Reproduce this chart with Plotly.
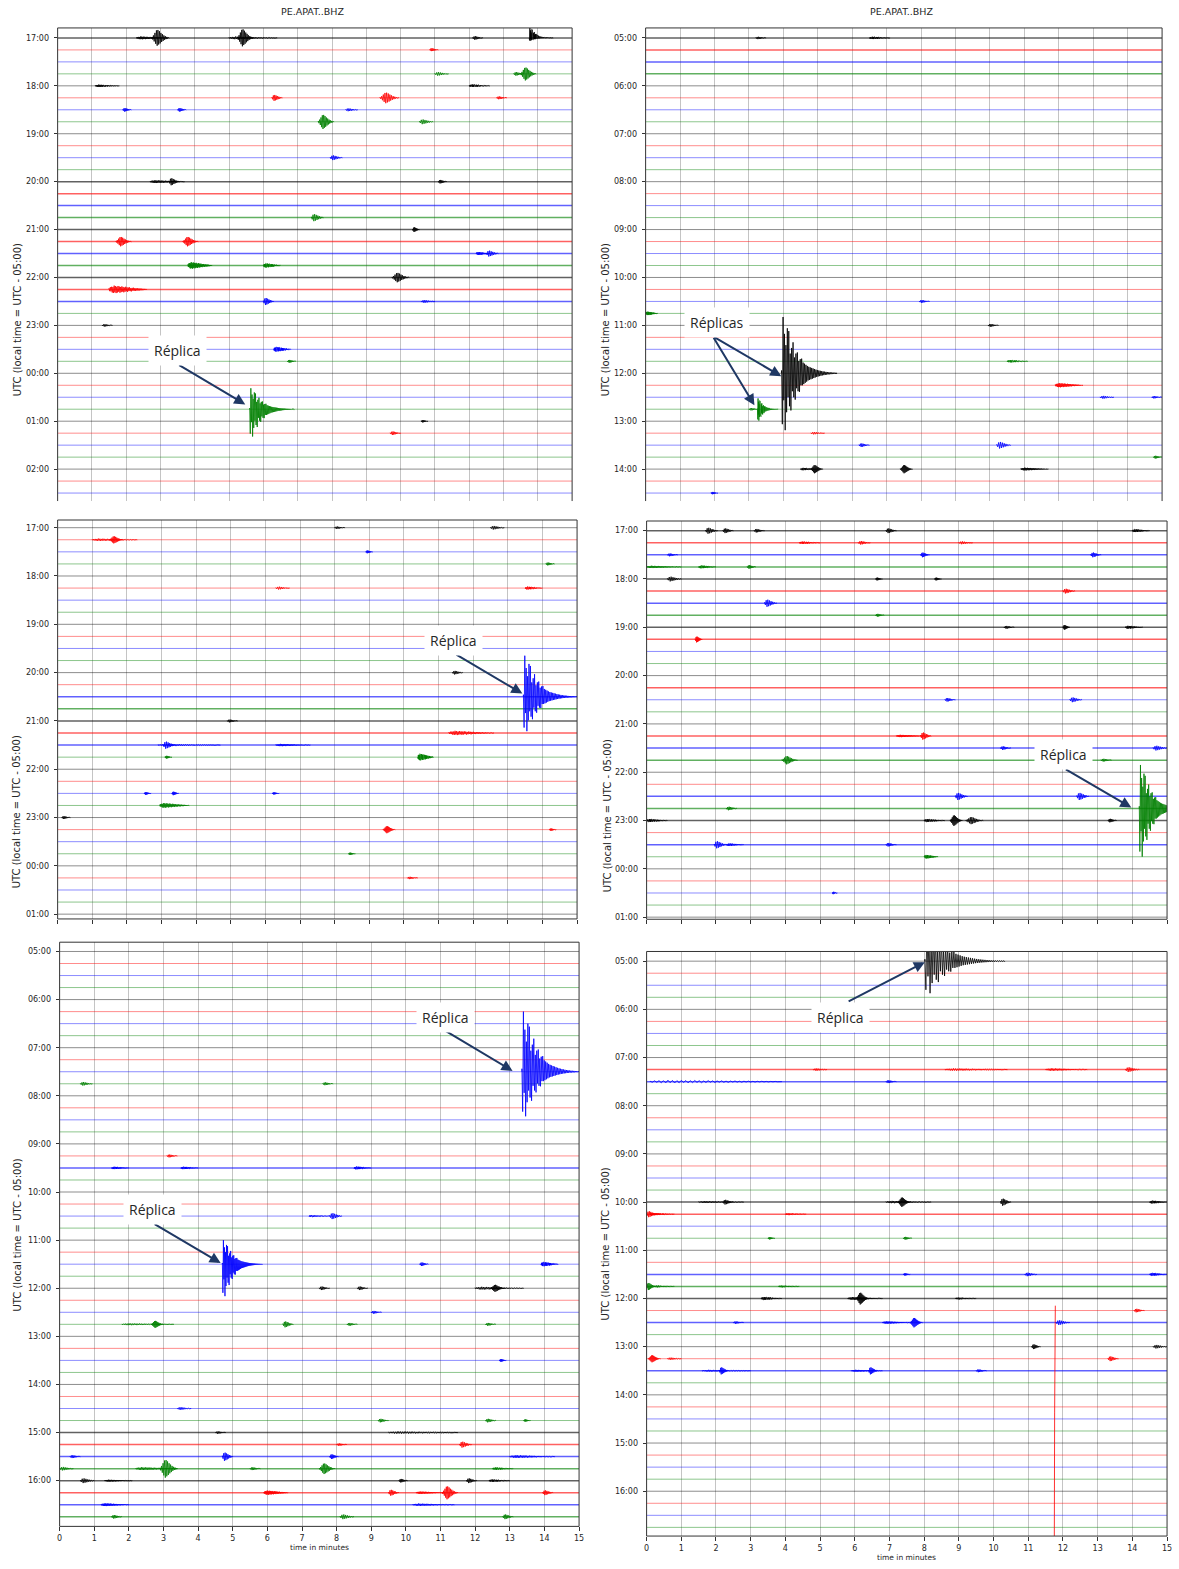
import plotly.graph_objects as go

W, H = 1179, 1569

STATION = "PE.APAT..BHZ"
Y_TITLE = "UTC (local time = UTC - 05:00)"
X_TITLE = "time in minutes"
NOTE = "Réplica"
NOTE_PLURAL = "Réplicas"
MINUTES = list(range(0, 16))

# one line per 15 minutes, colours cycle black / red / blue / green
TRACE_RGB = [(0, 0, 0), (255, 0, 0), (0, 0, 255), (0, 128, 0)]

# hour labels of each helicorder view
TL_HOURS = ["17:00", "18:00", "19:00", "20:00", "21:00", "22:00", "23:00", "00:00", "01:00", "02:00"]
TR_HOURS = ["05:00", "06:00", "07:00", "08:00", "09:00", "10:00", "11:00", "12:00", "13:00", "14:00"]
ML_HOURS = ["17:00", "18:00", "19:00", "20:00", "21:00", "22:00", "23:00", "00:00", "01:00"]
MR_HOURS = ["17:00", "18:00", "19:00", "20:00", "21:00", "22:00", "23:00", "00:00", "01:00"]
BL_HOURS = ["05:00", "06:00", "07:00", "08:00", "09:00", "10:00", "11:00", "12:00", "13:00", "14:00", "15:00", "16:00"]
BR_HOURS = ["05:00", "06:00", "07:00", "08:00", "09:00", "10:00", "11:00", "12:00", "13:00", "14:00", "15:00", "16:00"]

# number of 15-minute lines shown
TL_LINES, TR_LINES, ML_LINES, MR_LINES, BL_LINES, BR_LINES = 39, 39, 33, 33, 48, 48

# lines with a higher background noise level
TL_NOISY = [0, 12, 13, 14, 15, 16, 17, 18, 19, 20, 21, 22]
TR_NOISY = [0, 1, 2, 3]
ML_NOISY = [14, 15, 16, 17, 18]
MR_NOISY = [0, 1, 2, 3, 4, 5, 6, 7, 8, 9, 13, 17, 18, 19, 22, 23, 24, 26]
BL_NOISY = [18, 40, 41, 42, 43, 44, 45, 46, 47]
BR_NOISY = [9, 10, 20, 21, 26, 27, 28, 30, 34]

# relative amplitude envelopes of the wave packets (alternating up / down swings)
IMPULSIVE = [0.05, 0.85, 1.0, 0.45, 0.7, 0.95, 0.5, 0.65, 0.8, 0.4, 0.75, 0.55, 0.35, 0.62, 0.45,
             0.3, 0.55, 0.4, 0.28, 0.44, 0.35, 0.25, 0.37, 0.3, 0.22, 0.31, 0.25, 0.2, 0.26, 0.2,
             0.19, 0.18, 0.17, 0.16, 0.15, 0.14, 0.13, 0.12, 0.115, 0.11, 0.105,
             0.1, 0.095, 0.09, 0.085, 0.08, 0.075, 0.07, 0.065, 0.06, 0.057, 0.054, 0.05, 0.047,
             0.044, 0.041, 0.038, 0.035, 0.033, 0.031, 0.029, 0.027, 0.025, 0.023, 0.021, 0.019,
             0.018, 0.017, 0.016, 0.015, 0.014, 0.013, 0.012, 0.011, 0.01, 0.01, 0.01, 0.01]
SPINDLE = [0.1, 0.2, 0.3, 0.45, 0.6, 0.75, 0.9, 1.0, 0.95, 0.85, 0.8, 0.7, 0.6, 0.52, 0.45,
           0.38, 0.3, 0.25, 0.2, 0.15, 0.12, 0.09, 0.06, 0.04]
BLOB = [0.2, 0.5, 0.8, 1.0, 0.95, 0.85, 0.75, 0.65, 0.55, 0.45, 0.38, 0.3, 0.22, 0.16, 0.1, 0.06]
EMERGENT = [0.3, 0.45, 0.6, 0.5, 0.7, 0.8, 0.65, 0.9, 1.0, 0.75, 0.85, 0.95, 0.7, 0.8, 0.9,
            0.6, 0.75, 0.85, 0.65, 0.7, 0.8, 0.55, 0.65, 0.75, 0.5, 0.6, 0.7, 0.45, 0.55, 0.65,
            0.5, 0.4, 0.55, 0.45, 0.35, 0.5, 0.4, 0.3, 0.45, 0.35, 0.3, 0.4, 0.3, 0.25, 0.35,
            0.28, 0.22, 0.3, 0.24, 0.2, 0.25, 0.2, 0.16, 0.2, 0.15, 0.12, 0.15, 0.1, 0.08, 0.06]
SHAPES = {"impulsive": IMPULSIVE, "spindle": SPINDLE, "blob": BLOB, "emergent": EMERGENT}

# events: (line index, onset minute, up amplitude, down amplitude [line spacings], duration [min], shape)
TL_EVENTS = [
    (0, 2.3, 0.12, 0.12, 0.9, "emergent"), (0, 2.75, 0.7, 0.65, 0.5, "spindle"),
    (0, 5.0, 0.12, 0.12, 1.4, "emergent"), (0, 5.25, 0.75, 0.7, 0.45, "spindle"),
    (0, 12.1, 0.15, 0.15, 0.3, "blob"), (0, 13.75, 0.9, 0.25, 0.7, "impulsive"),
    (1, 10.85, 0.15, 0.1, 0.25, "blob"),
    (3, 11.0, 0.15, 0.15, 0.4, "blob"), (3, 13.3, 0.15, 0.15, 0.3, "blob"),
    (3, 13.5, 0.55, 0.55, 0.45, "spindle"),
    (4, 1.1, 0.1, 0.1, 0.7, "emergent"), (4, 12.0, 0.12, 0.1, 0.6, "emergent"),
    (5, 6.25, 0.25, 0.25, 0.3, "blob"), (5, 9.4, 0.45, 0.45, 0.55, "spindle"),
    (5, 12.8, 0.12, 0.12, 0.3, "blob"),
    (6, 1.9, 0.15, 0.15, 0.25, "blob"), (6, 3.5, 0.15, 0.15, 0.25, "blob"),
    (6, 8.4, 0.12, 0.12, 0.35, "blob"),
    (7, 7.6, 0.6, 0.6, 0.45, "spindle"), (7, 10.55, 0.2, 0.2, 0.4, "blob"),
    (10, 7.95, 0.2, 0.2, 0.35, "blob"),
    (12, 2.7, 0.12, 0.12, 1.0, "emergent"), (12, 3.25, 0.3, 0.3, 0.3, "blob"),
    (12, 11.1, 0.15, 0.15, 0.25, "blob"),
    (15, 7.4, 0.3, 0.3, 0.35, "blob"),
    (16, 10.35, 0.2, 0.2, 0.2, "blob"),
    (17, 1.7, 0.4, 0.4, 0.45, "spindle"), (17, 3.65, 0.4, 0.4, 0.45, "spindle"),
    (18, 12.2, 0.12, 0.12, 0.4, "emergent"), (18, 12.5, 0.25, 0.25, 0.35, "blob"),
    (19, 3.8, 0.28, 0.28, 0.7, "emergent"), (19, 6.0, 0.18, 0.18, 0.5, "emergent"),
    (20, 9.75, 0.4, 0.4, 0.5, "spindle"),
    (21, 1.5, 0.32, 0.32, 1.1, "emergent"),
    (22, 6.0, 0.3, 0.3, 0.3, "blob"), (22, 10.6, 0.12, 0.12, 0.4, "blob"),
    (24, 1.3, 0.1, 0.1, 0.3, "blob"),
    (26, 6.3, 0.2, 0.2, 0.5, "emergent"),
    (27, 6.7, 0.12, 0.12, 0.25, "blob"),
    (31, 5.6, 1.75, 2.4, 1.3, "impulsive"),
    (32, 10.6, 0.1, 0.1, 0.2, "blob"),
    (33, 9.7, 0.15, 0.15, 0.3, "blob"),
]
TR_EVENTS = [
    (0, 3.2, 0.1, 0.1, 0.3, "blob"), (0, 6.5, 0.1, 0.1, 0.6, "emergent"),
    (22, 7.95, 0.12, 0.12, 0.3, "blob"),
    (23, 0.0, 0.15, 0.15, 0.35, "emergent"),
    (24, 9.95, 0.12, 0.12, 0.3, "blob"),
    (27, 10.5, 0.1, 0.1, 0.6, "emergent"),
    (28, 3.95, 4.7, 5.0, 1.6, "impulsive"),
    (29, 11.9, 0.18, 0.18, 0.8, "emergent"),
    (30, 13.2, 0.12, 0.12, 0.4, "blob"), (30, 14.7, 0.1, 0.1, 0.3, "blob"),
    (31, 3.0, 0.1, 0.1, 0.3, "blob"), (31, 3.25, 0.9, 1.0, 0.6, "impulsive"),
    (33, 4.8, 0.1, 0.1, 0.4, "blob"),
    (34, 6.2, 0.15, 0.15, 0.3, "blob"), (34, 10.2, 0.28, 0.28, 0.4, "blob"),
    (35, 14.75, 0.12, 0.12, 0.25, "blob"),
    (36, 4.5, 0.1, 0.1, 0.5, "emergent"), (36, 4.8, 0.35, 0.35, 0.35, "spindle"),
    (36, 7.4, 0.35, 0.35, 0.35, "spindle"), (36, 10.9, 0.12, 0.12, 0.8, "emergent"),
    (38, 1.9, 0.1, 0.1, 0.2, "blob"),
]
ML_EVENTS = [
    (0, 8.0, 0.1, 0.1, 0.3, "blob"), (0, 12.5, 0.15, 0.15, 0.4, "blob"),
    (1, 1.0, 0.1, 0.1, 1.3, "emergent"), (1, 1.5, 0.3, 0.3, 0.4, "spindle"),
    (2, 8.9, 0.12, 0.12, 0.2, "blob"),
    (3, 14.1, 0.12, 0.12, 0.25, "blob"),
    (5, 6.3, 0.12, 0.12, 0.4, "blob"), (5, 13.5, 0.12, 0.12, 0.5, "emergent"),
    (12, 11.4, 0.15, 0.15, 0.3, "blob"),
    (14, 13.45, 3.4, 3.0, 1.55, "impulsive"),
    (16, 4.9, 0.12, 0.12, 0.3, "blob"),
    (17, 11.3, 0.18, 0.18, 1.3, "emergent"),
    (18, 2.9, 0.1, 0.1, 1.8, "emergent"), (18, 3.05, 0.3, 0.3, 0.35, "blob"),
    (18, 6.3, 0.1, 0.1, 1.0, "emergent"),
    (19, 3.1, 0.12, 0.12, 0.2, "blob"), (19, 10.4, 0.28, 0.28, 0.45, "emergent"),
    (22, 2.5, 0.12, 0.12, 0.2, "blob"), (22, 3.3, 0.15, 0.15, 0.2, "blob"),
    (22, 6.2, 0.1, 0.1, 0.2, "blob"),
    (23, 2.95, 0.2, 0.2, 0.85, "emergent"),
    (24, 0.12, 0.12, 0.12, 0.25, "blob"),
    (25, 9.4, 0.3, 0.3, 0.35, "spindle"), (25, 14.2, 0.1, 0.1, 0.2, "blob"),
    (27, 8.4, 0.1, 0.1, 0.2, "blob"),
    (29, 10.1, 0.1, 0.1, 0.3, "blob"),
]
MR_EVENTS = [
    (0, 1.7, 0.25, 0.25, 0.35, "blob"), (0, 2.2, 0.2, 0.2, 0.3, "blob"),
    (0, 3.1, 0.15, 0.15, 0.3, "blob"), (0, 6.9, 0.2, 0.2, 0.3, "blob"),
    (0, 14.0, 0.12, 0.12, 0.5, "emergent"),
    (1, 4.4, 0.1, 0.1, 0.6, "emergent"), (1, 6.1, 0.15, 0.15, 0.35, "blob"),
    (1, 9.0, 0.12, 0.12, 0.4, "blob"),
    (2, 0.6, 0.12, 0.12, 0.3, "blob"), (2, 7.9, 0.2, 0.2, 0.25, "blob"),
    (2, 12.8, 0.2, 0.2, 0.3, "blob"),
    (3, 0.0, 0.1, 0.1, 1.0, "emergent"), (3, 1.5, 0.12, 0.12, 0.5, "emergent"),
    (3, 2.9, 0.15, 0.15, 0.25, "blob"),
    (4, 0.6, 0.2, 0.2, 0.4, "blob"), (4, 6.6, 0.12, 0.12, 0.2, "blob"),
    (4, 8.3, 0.12, 0.12, 0.2, "blob"),
    (5, 12.0, 0.2, 0.2, 0.35, "blob"),
    (6, 3.4, 0.3, 0.3, 0.35, "blob"),
    (7, 6.6, 0.12, 0.12, 0.25, "blob"),
    (8, 10.3, 0.12, 0.12, 0.3, "blob"), (8, 12.0, 0.2, 0.2, 0.2, "blob"),
    (8, 13.8, 0.12, 0.12, 0.5, "emergent"),
    (9, 1.4, 0.25, 0.25, 0.2, "blob"),
    (14, 8.6, 0.15, 0.15, 0.3, "blob"), (14, 12.2, 0.2, 0.2, 0.35, "blob"),
    (17, 7.2, 0.1, 0.1, 0.8, "emergent"), (17, 7.9, 0.3, 0.3, 0.3, "blob"),
    (18, 10.2, 0.15, 0.15, 0.3, "blob"), (18, 14.6, 0.2, 0.2, 0.4, "blob"),
    (19, 3.9, 0.35, 0.35, 0.45, "spindle"), (19, 13.1, 0.12, 0.12, 0.3, "blob"),
    (22, 8.9, 0.3, 0.3, 0.35, "blob"), (22, 12.4, 0.3, 0.3, 0.35, "blob"),
    (23, 2.3, 0.15, 0.15, 0.3, "blob"), (23, 14.2, 3.6, 4.2, 1.3, "impulsive"),
    (24, 0.0, 0.12, 0.12, 0.6, "emergent"), (24, 8.0, 0.12, 0.12, 0.6, "emergent"),
    (24, 8.75, 0.45, 0.45, 0.35, "spindle"), (24, 9.2, 0.3, 0.3, 0.5, "spindle"),
    (24, 13.3, 0.15, 0.15, 0.25, "blob"),
    (26, 1.95, 0.3, 0.3, 0.35, "blob"), (26, 2.3, 0.1, 0.1, 0.5, "emergent"),
    (26, 6.9, 0.15, 0.15, 0.3, "blob"),
    (27, 8.0, 0.15, 0.15, 0.4, "emergent"),
    (30, 5.35, 0.1, 0.1, 0.15, "blob"),
]
BL_EVENTS = [
    (10, 13.35, 5.0, 3.9, 1.65, "impulsive"),
    (11, 0.6, 0.15, 0.15, 0.35, "blob"), (11, 7.6, 0.12, 0.12, 0.3, "blob"),
    (17, 3.1, 0.12, 0.12, 0.3, "blob"),
    (18, 1.5, 0.1, 0.1, 0.5, "emergent"), (18, 3.5, 0.1, 0.1, 0.5, "emergent"),
    (18, 8.5, 0.12, 0.12, 0.5, "emergent"),
    (22, 7.2, 0.08, 0.08, 0.6, "emergent"), (22, 7.8, 0.25, 0.25, 0.35, "blob"),
    (26, 4.7, 2.0, 2.8, 1.15, "impulsive"),
    (26, 10.4, 0.15, 0.15, 0.25, "blob"), (26, 13.9, 0.18, 0.18, 0.5, "emergent"),
    (28, 7.5, 0.15, 0.15, 0.3, "blob"), (28, 8.6, 0.15, 0.15, 0.3, "blob"),
    (28, 12.0, 0.12, 0.12, 1.4, "emergent"), (28, 12.45, 0.3, 0.3, 0.4, "spindle"),
    (30, 9.0, 0.12, 0.12, 0.3, "blob"),
    (31, 1.8, 0.08, 0.08, 1.5, "emergent"), (31, 2.65, 0.3, 0.3, 0.35, "spindle"),
    (31, 6.45, 0.25, 0.25, 0.3, "blob"), (31, 8.3, 0.12, 0.12, 0.3, "blob"),
    (31, 12.3, 0.12, 0.12, 0.3, "blob"),
    (34, 12.7, 0.12, 0.12, 0.2, "blob"),
    (38, 3.4, 0.12, 0.12, 0.4, "blob"),
    (39, 9.2, 0.15, 0.15, 0.3, "blob"), (39, 12.3, 0.15, 0.15, 0.3, "blob"),
    (39, 13.4, 0.1, 0.1, 0.2, "blob"),
    (40, 4.5, 0.1, 0.1, 0.3, "blob"), (40, 9.5, 0.1, 0.1, 2.0, "emergent"),
    (41, 8.0, 0.1, 0.1, 0.3, "blob"), (41, 11.55, 0.25, 0.25, 0.35, "blob"),
    (42, 0.3, 0.12, 0.12, 0.3, "blob"), (42, 4.7, 0.35, 0.35, 0.3, "blob"),
    (42, 7.8, 0.2, 0.2, 0.25, "blob"), (42, 13.0, 0.12, 0.12, 1.3, "emergent"),
    (43, 0.0, 0.15, 0.15, 0.4, "blob"), (43, 2.2, 0.12, 0.12, 1.2, "emergent"),
    (43, 2.9, 0.75, 0.75, 0.5, "spindle"), (43, 5.5, 0.12, 0.12, 0.3, "blob"),
    (43, 7.5, 0.45, 0.45, 0.45, "spindle"), (43, 12.5, 0.1, 0.1, 0.6, "emergent"),
    (44, 0.6, 0.2, 0.2, 0.4, "blob"), (44, 1.3, 0.08, 0.08, 0.8, "emergent"),
    (44, 9.8, 0.15, 0.15, 0.25, "blob"), (44, 11.75, 0.2, 0.2, 0.3, "blob"),
    (44, 12.4, 0.1, 0.1, 0.6, "emergent"),
    (45, 5.9, 0.18, 0.18, 0.7, "emergent"), (45, 9.5, 0.25, 0.25, 0.3, "blob"),
    (45, 10.3, 0.1, 0.1, 0.8, "emergent"), (45, 11.05, 0.55, 0.55, 0.45, "spindle"),
    (45, 13.95, 0.2, 0.2, 0.3, "blob"),
    (46, 1.2, 0.12, 0.12, 0.8, "emergent"), (46, 10.2, 0.1, 0.1, 1.2, "emergent"),
    (47, 1.5, 0.15, 0.15, 0.3, "blob"), (47, 8.1, 0.2, 0.2, 0.4, "blob"),
    (47, 12.8, 0.2, 0.2, 0.3, "blob"),
]
BR_EVENTS = [
    (0, 8.02, 3.2, 2.8, 2.3, "impulsive"),
    (9, 4.8, 0.1, 0.1, 0.4, "blob"), (9, 8.6, 0.1, 0.1, 1.8, "emergent"),
    (9, 11.5, 0.1, 0.1, 1.2, "emergent"), (9, 13.8, 0.2, 0.2, 0.4, "blob"),
    (10, 0.1, 0.12, 0.12, 3.8, "emergent"), (10, 6.9, 0.12, 0.12, 0.3, "blob"),
    (20, 1.5, 0.08, 0.08, 1.3, "emergent"), (20, 2.2, 0.2, 0.2, 0.3, "blob"),
    (20, 6.9, 0.1, 0.1, 1.3, "emergent"), (20, 7.25, 0.4, 0.4, 0.35, "spindle"),
    (20, 10.2, 0.3, 0.3, 0.3, "blob"), (20, 14.5, 0.12, 0.12, 0.5, "emergent"),
    (21, 0.0, 0.25, 0.25, 0.3, "blob"), (21, 0.1, 0.1, 0.1, 0.7, "emergent"),
    (21, 4.0, 0.08, 0.08, 0.6, "emergent"),
    (23, 3.5, 0.1, 0.1, 0.2, "blob"), (23, 7.4, 0.12, 0.12, 0.25, "blob"),
    (26, 7.4, 0.1, 0.1, 0.2, "blob"), (26, 10.9, 0.15, 0.15, 0.35, "blob"),
    (26, 14.5, 0.12, 0.12, 0.5, "emergent"),
    (27, 0.0, 0.3, 0.3, 0.25, "blob"), (27, 0.2, 0.08, 0.08, 0.6, "emergent"),
    (27, 3.8, 0.08, 0.08, 0.6, "emergent"),
    (28, 3.3, 0.12, 0.12, 0.6, "emergent"), (28, 5.8, 0.12, 0.12, 1.0, "emergent"),
    (28, 6.05, 0.5, 0.5, 0.35, "spindle"), (28, 8.9, 0.08, 0.08, 0.6, "emergent"),
    (29, 14.05, 0.15, 0.15, 0.3, "blob"),
    (30, 2.5, 0.1, 0.1, 0.3, "blob"), (30, 6.8, 0.1, 0.1, 0.8, "emergent"),
    (30, 7.6, 0.4, 0.4, 0.35, "spindle"), (30, 11.8, 0.2, 0.2, 0.4, "blob"),
    (32, 11.1, 0.2, 0.2, 0.25, "blob"), (32, 14.6, 0.15, 0.15, 0.4, "blob"),
    (33, 0.05, 0.3, 0.3, 0.35, "spindle"), (33, 0.6, 0.1, 0.1, 0.4, "blob"),
    (33, 13.3, 0.2, 0.2, 0.3, "blob"),
    (34, 1.6, 0.08, 0.08, 1.4, "emergent"), (34, 2.1, 0.3, 0.3, 0.25, "blob"),
    (34, 5.9, 0.08, 0.08, 0.9, "emergent"), (34, 6.4, 0.3, 0.3, 0.25, "blob"),
    (34, 9.5, 0.12, 0.12, 0.3, "blob"),
]
# instrument glitch: (line index, minute, up, down)
BR_GLITCH = [(37, 11.77, 8.4, 12.0)]

# ---- panel geometry (pixels) and annotations ----
PANELS = [
    dict(hours=TL_HOURS, lines=TL_LINES, noisy=TL_NOISY, events=TL_EVENTS, glitch=[],
         x0=55, x1=573, top=28, bottom=502, first=38.0, pitch=12.0,
         frame_bottom=False, xticks=False, xlabels=False, title_x=312, ytitle=(14, 320), xtitle_y=None,
         notes=[(NOTE, 3.50, 26.1)], arrows=[((3.50, 27.25), (5.47, 30.6))]),
    dict(hours=TR_HOURS, lines=TR_LINES, noisy=TR_NOISY, events=TR_EVENTS, glitch=[],
         x0=647, x1=1167, top=28, bottom=502, first=38.0, pitch=12.0,
         frame_bottom=False, xticks=False, xlabels=False, title_x=905, ytitle=(607, 320), xtitle_y=None,
         notes=[(NOTE_PLURAL, 2.08, 23.8)],
         arrows=[((1.95, 24.9), (3.94, 28.25)), ((1.95, 24.9), (3.16, 30.67))]),
    dict(hours=ML_HOURS, lines=ML_LINES, noisy=ML_NOISY, events=ML_EVENTS, glitch=[],
         x0=55, x1=578, top=521, bottom=920.7, first=528.7, pitch=12.1,
         frame_bottom=True, xticks=True, xlabels=False, title_x=None, ytitle=(14, 813), xtitle_y=None,
         notes=[(NOTE, 11.44, 9.36)], arrows=[((11.47, 10.44), (13.42, 13.74))]),
    dict(hours=MR_HOURS, lines=MR_LINES, noisy=MR_NOISY, events=MR_EVENTS, glitch=[],
         x0=648, x1=1172, top=522, bottom=921, first=531.7, pitch=12.1,
         frame_bottom=True, xticks=True, xlabels=False, title_x=None, ytitle=(609, 817), xtitle_y=None,
         notes=[(NOTE, 12.02, 18.54)], arrows=[((12.04, 19.7), (13.97, 22.93))]),
    dict(hours=BL_HOURS, lines=BL_LINES, noisy=BL_NOISY, events=BL_EVENTS, glitch=[],
         x0=57, x1=580, top=944, bottom=1529.3, first=953.3, pitch=12.05,
         frame_bottom=True, xticks=True, xlabels=True, title_x=None, ytitle=(15, 1237), xtitle_y=1550,
         notes=[(NOTE, 11.13, 5.45), (NOTE, 2.67, 21.48)],
         arrows=[((11.1, 6.53), (13.08, 9.93)), ((2.7, 22.6), (4.65, 25.9))]),
    dict(hours=BR_HOURS, lines=BR_LINES, noisy=BR_NOISY, events=BR_EVENTS, glitch=BR_GLITCH,
         x0=648, x1=1172, top=953.3, bottom=1539, first=963, pitch=12.07,
         frame_bottom=True, xticks=True, xlabels=True, title_x=None, ytitle=(607, 1246), xtitle_y=1560,
         notes=[(NOTE, 5.58, 4.64)], arrows=[((5.78, 3.4), (8.02, 0.08))]),
]

TEXT_COLOR = "#262626"
ARROW_COLOR = "#1f3864"
GRID_COLOR = "#c4c4c4"
FRAME_COLOR = "#333333"


def rgba(rgb, a):
    return f"rgba({rgb[0]},{rgb[1]},{rgb[2]},{a})"


def px_x(px):
    return px / W


def px_y(py):
    return 1 - py / H


fig = go.Figure()
layout = dict(width=W, height=H, autosize=False, margin=dict(l=0, r=0, t=0, b=0),
              paper_bgcolor="white", plot_bgcolor="white", showlegend=False,
              font=dict(family="DejaVu Sans", color=TEXT_COLOR))
annotations, shapes = [], []

for idx, p in enumerate(PANELS, start=1):
    sfx = "" if idx == 1 else str(idx)
    xa, ya = "x" + sfx, "y" + sfx

    # baselines of every 15-minute line
    for c, rgb in enumerate(TRACE_RGB):
        for noisy in (False, True):
            xs, ys = [], []
            for r in range(c, p["lines"], 4):
                if (r in p["noisy"]) != noisy:
                    continue
                xs += [0, 15, None]
                ys += [-r, -r, None]
            if xs:
                fig.add_trace(go.Scatter(
                    x=xs, y=ys, mode="lines", xaxis=xa, yaxis=ya, hoverinfo="skip",
                    line=dict(color=rgba(rgb, 0.62 if noisy else 0.45), width=1.5 if noisy else 1.0)))

    # wave packets
    for c, rgb in enumerate(TRACE_RGB):
        xs, ys = [], []
        for (row, start, up, down, dur, kind) in p["events"]:
            if row % 4 != c:
                continue
            env = SHAPES[kind]
            n = len(env)
            xs.append(start)
            ys.append(-row)
            for i, e in enumerate(env):
                xs.append(start + dur * i / (n - 1))
                ys.append(-row + (up * e if i % 2 == 0 else -down * e))
            xs += [start + dur, None]
            ys += [-row, None]
        for (row, minute, up, down) in p["glitch"]:
            if row % 4 != c:
                continue
            xs += [minute + 0.01, minute + 0.01, minute - 0.01, minute - 0.02, None]
            ys += [-row + up, -row, -row - 0.5, -row - down, None]
        if xs:
            fig.add_trace(go.Scatter(
                x=xs, y=ys, mode="lines", xaxis=xa, yaxis=ya, hoverinfo="skip",
                line=dict(color=rgba(rgb, 0.9), width=0.9)))

    y_top = (p["first"] - p["top"]) / p["pitch"]
    y_bot = -(p["bottom"] - p["first"]) / p["pitch"]

    layout["xaxis" + sfx] = dict(
        domain=[px_x(p["x0"]), px_x(p["x1"])], range=[0, 15], anchor=ya,
        tickmode="array", tickvals=MINUTES, ticktext=[str(m) for m in MINUTES],
        showgrid=True, gridcolor=GRID_COLOR, gridwidth=1, zeroline=False, showline=False,
        ticks="outside" if p["xticks"] else "", ticklen=4, tickcolor=FRAME_COLOR,
        showticklabels=p["xlabels"], tickfont=dict(size=8, color=TEXT_COLOR), fixedrange=True)
    layout["yaxis" + sfx] = dict(
        domain=[px_y(p["bottom"]), px_y(p["top"])], range=[y_bot, y_top], anchor=xa,
        tickmode="array", tickvals=[-4 * h for h in range(len(p["hours"]))], ticktext=p["hours"],
        showgrid=False, zeroline=False, showline=False,
        ticks="outside", ticklen=3, tickcolor=FRAME_COLOR, ticklabelstandoff=3,
        tickfont=dict(size=8, color=TEXT_COLOR), fixedrange=True)

    # axes frame
    frame = [(0, 0, 0, 1), (1, 0, 1, 1), (0, 1, 1, 1)]
    if p["frame_bottom"]:
        frame.append((0, 0, 1, 0))
    for (fx0, fy0, fx1, fy1) in frame:
        shapes.append(dict(type="line", xref=xa + " domain", yref=ya + " domain",
                           x0=fx0, y0=fy0, x1=fx1, y1=fy1,
                           line=dict(color=FRAME_COLOR, width=1), layer="above"))

    if p["title_x"] is not None:
        annotations.append(dict(text=STATION, x=px_x(p["title_x"]), y=px_y(12), xref="paper", yref="paper",
                                showarrow=False, font=dict(size=9.5, color=TEXT_COLOR),
                                xanchor="center", yanchor="middle"))
    annotations.append(dict(text=Y_TITLE, x=px_x(p["ytitle"][0]), y=px_y(p["ytitle"][1]),
                            xref="paper", yref="paper", showarrow=False, textangle=-90,
                            font=dict(size=10, color=TEXT_COLOR), xanchor="center", yanchor="middle"))
    if p["xtitle_y"] is not None:
        annotations.append(dict(text=X_TITLE, x=px_x((p["x0"] + p["x1"]) / 2), y=px_y(p["xtitle_y"]),
                                xref="paper", yref="paper", showarrow=False,
                                font=dict(size=7.5, color=TEXT_COLOR), xanchor="center", yanchor="middle"))

    for (tail, head) in p["arrows"]:
        annotations.append(dict(text="", x=head[0], y=-head[1], ax=tail[0], ay=-tail[1],
                                xref=xa, yref=ya, axref=xa, ayref=ya, showarrow=True,
                                arrowhead=2, arrowsize=1.1, arrowwidth=2, arrowcolor=ARROW_COLOR,
                                standoff=0, startstandoff=0))
    for (label, mx, mrow) in p["notes"]:
        annotations.append(dict(text=label, x=mx, y=-mrow, xref=xa, yref=ya, showarrow=False,
                                bgcolor="white", borderpad=5,
                                font=dict(family="Open Sans", size=14, color=TEXT_COLOR),
                                xanchor="center", yanchor="middle"))

layout["annotations"] = annotations
layout["shapes"] = shapes
fig.update_layout(**layout)
fig.write_html("out.html")
